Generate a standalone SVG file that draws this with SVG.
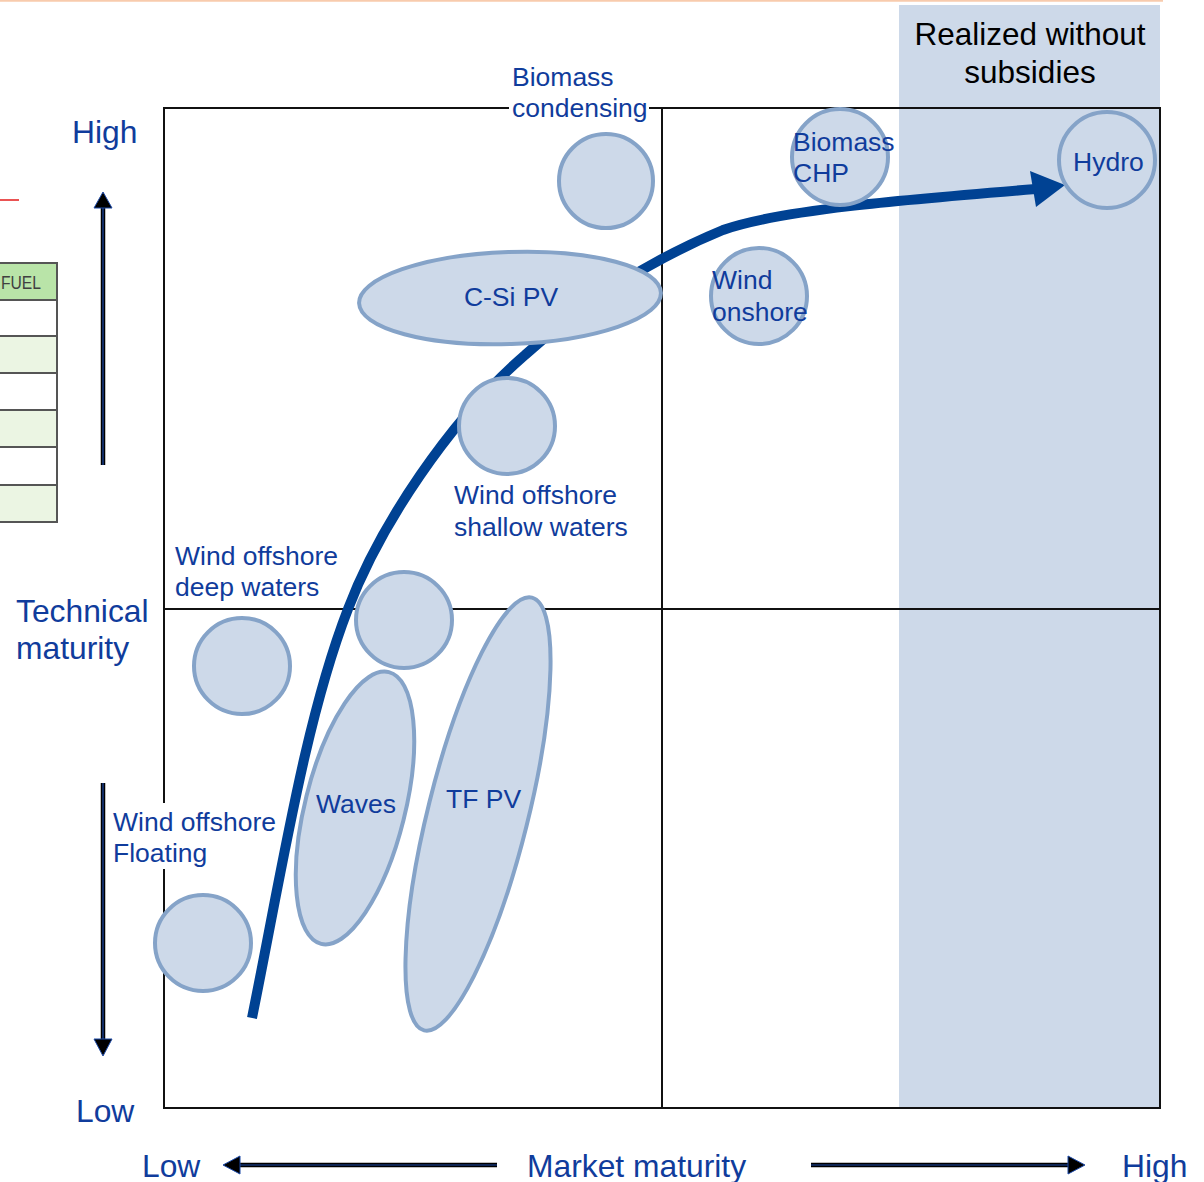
<svg xmlns="http://www.w3.org/2000/svg" width="1204" height="1182" viewBox="0 0 1204 1182">
<style>
.node{fill:#cdd9e9;stroke:#85a3c8;stroke-width:4}
.lbl{font-family:"Liberation Sans",Arial,sans-serif;font-size:26.5px;fill:#103c9c}
.ax{font-family:"Liberation Sans",Arial,sans-serif;font-size:31.8px;fill:#103c9c}
.frame{fill:none;stroke:#111;stroke-width:2}
.axo{stroke:#000;stroke-width:4.5;fill:none}
.axi{stroke:#1d4aa8;stroke-width:1.2;fill:none}
.axh{fill:#000;stroke:#1d4aa8;stroke-width:1}
.row{stroke:#555;stroke-width:2}
</style>
<rect x="0" y="0" width="1204" height="1182" fill="#fff"/>
<!-- top peach line and red mark -->
<line x1="0" y1="0.8" x2="1163" y2="0.8" stroke="#f8cbad" stroke-width="2"/>
<line x1="0" y1="200" x2="19" y2="200" stroke="#e31a1a" stroke-width="1.5"/>
<!-- table fragment -->
<g id="table-fragment">
<rect x="-5" y="263" width="62" height="37" fill="#b9e4a8" class="row"/>
<rect x="-5" y="300" width="62" height="36" fill="#ffffff" class="row"/>
<rect x="-5" y="336" width="62" height="37" fill="#ebf5e3" class="row"/>
<rect x="-5" y="373" width="62" height="37" fill="#ffffff" class="row"/>
<rect x="-5" y="410" width="62" height="37" fill="#ebf5e3" class="row"/>
<rect x="-5" y="447" width="62" height="38" fill="#ffffff" class="row"/>
<rect x="-5" y="485" width="62" height="37" fill="#ebf5e3" class="row"/>
<text x="1" y="289" textLength="40" lengthAdjust="spacingAndGlyphs" font-family="'Liberation Sans',Arial,sans-serif" font-size="18" fill="#404040">FUEL</text>
</g>
<!-- realized without subsidies band -->
<rect x="899" y="5" width="261" height="1102" fill="#cdd9e9"/>
<text x="1030" y="45" text-anchor="middle" font-family="'Liberation Sans',Arial,sans-serif" font-size="31.5" fill="#000">Realized without</text>
<text x="1030" y="83" text-anchor="middle" font-family="'Liberation Sans',Arial,sans-serif" font-size="31.5" fill="#000">subsidies</text>
<!-- frame -->
<g id="frame">
<rect x="164" y="108" width="996" height="1000" class="frame"/>
<line x1="662" y1="108" x2="662" y2="1108" class="frame"/>
<line x1="164" y1="609" x2="1160" y2="609" class="frame"/>
</g>
<!-- connectors -->
<g id="connectors">
<path d="M252,1018 C282,870 305,720 348,609 C380,525 450,420 525,355 C580,305 650,260 723,230 C780,210 900,200 1036,189" fill="none" stroke="#004293" stroke-width="10"/>
<polygon points="1030,171 1065,185 1036,207" fill="#004293"/>
</g>
<!-- nodes -->
<g id="node-biomass-condensing">
<circle cx="606" cy="181" r="47" class="node"/>
<rect x="509" y="62" width="140" height="64" fill="#fff"/>
<text class="lbl" x="512" y="86">Biomass</text>
<text class="lbl" x="512" y="117">condensing</text>
</g>
<g id="node-biomass-chp">
<circle cx="840" cy="157" r="48" class="node"/>
<text class="lbl" x="793" y="151">Biomass</text>
<text class="lbl" x="793" y="182">CHP</text>
</g>
<g id="node-hydro">
<circle cx="1107" cy="160" r="48" class="node"/>
<text class="lbl" x="1073" y="171">Hydro</text>
</g>
<g id="node-wind-onshore">
<circle cx="759" cy="296" r="48" class="node"/>
<text class="lbl" x="712" y="289">Wind</text>
<text class="lbl" x="712" y="321">onshore</text>
</g>
<g id="node-csi-pv">
<ellipse cx="510" cy="298" rx="151" ry="46" transform="rotate(-2 510 298)" class="node"/>
<text class="lbl" x="511" y="306" text-anchor="middle">C-Si PV</text>
</g>
<g id="node-wind-offshore-shallow">
<circle cx="507" cy="426" r="48" class="node"/>
<text class="lbl" x="454" y="504">Wind offshore</text>
<text class="lbl" x="454" y="536">shallow waters</text>
</g>
<g id="node-wind-offshore-deep">
<circle cx="404" cy="620" r="48" class="node"/>
<circle cx="242" cy="666" r="48" class="node"/>
<text class="lbl" x="175" y="565">Wind offshore</text>
<text class="lbl" x="175" y="596">deep waters</text>
</g>
<g id="node-waves">
<ellipse cx="355" cy="808" rx="50" ry="140" transform="rotate(14 355 808)" class="node"/>
<text class="lbl" x="316" y="813">Waves</text>
</g>
<g id="node-tf-pv">
<ellipse cx="478" cy="814" rx="50" ry="223" transform="rotate(14 478 814)" class="node"/>
<text class="lbl" x="446" y="808">TF PV</text>
</g>
<g id="node-wind-offshore-floating">
<circle cx="203" cy="943" r="48" class="node"/>
<rect x="110" y="803" width="165" height="66" fill="#fff"/>
<text class="lbl" x="113" y="831">Wind offshore</text>
<text class="lbl" x="113" y="862">Floating</text>
</g>
<!-- axis labels -->
<g id="axis-labels">
<text class="ax" x="72" y="143">High</text>
<text class="ax" x="16" y="622">Technical</text>
<text class="ax" x="16" y="659">maturity</text>
<text class="ax" x="76" y="1122">Low</text>
<text class="ax" x="142" y="1177">Low</text>
<text class="ax" x="527" y="1177">Market maturity</text>
<text class="ax" x="1122" y="1177">High</text>
</g>
<!-- axis arrows -->
<g id="axis-arrows">
<line x1="103" y1="465" x2="103" y2="206" class="axo"/>
<line x1="103" y1="465" x2="103" y2="206" class="axi"/>
<polygon points="103,192 112,208 94,208" class="axh"/>
<line x1="103" y1="783" x2="103" y2="1041" class="axo"/>
<line x1="103" y1="783" x2="103" y2="1041" class="axi"/>
<polygon points="103,1056 112,1039 94,1039" class="axh"/>
<line x1="497" y1="1165" x2="238" y2="1165" class="axo"/>
<line x1="497" y1="1165" x2="238" y2="1165" class="axi"/>
<polygon points="223,1165 240,1156 240,1174" class="axh"/>
<line x1="811" y1="1165" x2="1070" y2="1165" class="axo"/>
<line x1="811" y1="1165" x2="1070" y2="1165" class="axi"/>
<polygon points="1085,1165 1068,1156 1068,1174" class="axh"/>
</g>
</svg>
